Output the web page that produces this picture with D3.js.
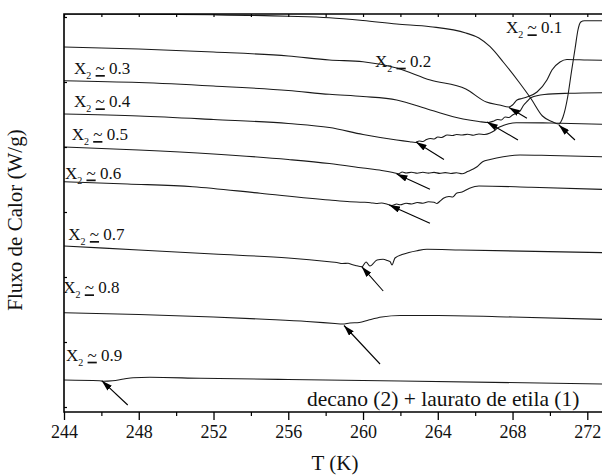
<!DOCTYPE html>
<html><head><meta charset="utf-8">
<script src="https://cdn.jsdelivr.net/npm/d3@7"></script>
<style>
body{margin:0;background:#fff}
text{font-family:"Liberation Serif","Times New Roman",serif;fill:#111;white-space:pre}
</style>
</head><body>
<svg id="chart" width="602" height="475"></svg>
<script>
// ---------- data ----------
const xTicks = [244, 248, 252, 256, 260, 264, 268, 272];
const xMinorTicks = [246, 250, 254, 258, 262, 266, 270];
const yMinorTicks = [5, 70, 135, 200, 265, 330, 395];
const compositions = ["0.1", "0.2", "0.3", "0.4", "0.5", "0.6", "0.7", "0.8", "0.9"];

// heat flow (arbitrary, offset units) vs T (K)
const curve01 = [[244,398],[248,397.8],[252,397.2],[256,395.8],[258.2,394.3],[260,391.5],[261.8,388],[263.6,385.3],[265.5,379],[266.2,374],[266.8,365.3],[267.5,350],[268.3,331],[269.0,313],[269.6,296],[270.1,290.5],[270.45,288],[270.7,295],[270.95,315],[271.15,340],[271.35,364],[271.5,382],[271.65,390],[271.85,391.3],[273,391.2]];
const curve02 = [[244,365],[248,363],[252,360],[256,356],[258.2,352],[260,350.3],[261.8,344],[263.6,332],[265.5,323],[266.6,310],[267.3,307],[267.8,305],[268.0,307],[268.24,312],[268.5,313.5],[268.77,315],[269.31,320],[269.84,332],[270.11,342],[270.54,350],[270.91,352.5],[272,352],[273,351.7]];
const curve03 = [[244,331.3],[248,329.5],[252,326],[256,321.5],[258.2,317.7],[260,315.5],[261.8,312],[263.6,302],[265.35,293],[266.2,290.5],[266.7,289.5],[267.0,291],[267.2,292.5],[267.4,292],[267.6,295],[267.8,294.5],[268.0,297],[268.2,299],[268.4,301],[268.6,307],[268.8,311],[269.0,314.5],[269.7,317.5],[271,318.7],[273,319.3]];
const curve04 = [[244,298],[248,296],[252,292.5],[256,288.5],[258.2,284.5],[260,277.5],[261.8,272],[262.5,270.3],[262.8,269.5],[263.0,271],[263.2,270.5],[263.4,272.5],[263.6,273.5],[263.8,273],[264.0,275],[264.2,274.5],[264.5,277],[264.8,276.5],[265.0,277.5],[265.3,277],[265.6,277.8],[265.9,276.8],[266.2,278],[266.5,277.5],[266.8,279],[267.0,281],[267.2,284],[267.5,286.5],[267.8,288.3],[268.2,289.3],[270,289],[273,287.7]];
const curve05 = [[244,265],[248,262],[252,258],[256,252.5],[258.2,248.5],[260,244],[261,241.5],[261.6,239.5],[261.9,238.3],[262.1,240],[262.3,239],[262.6,239.8],[262.9,238.8],[263.2,239.7],[263.5,238.9],[263.8,239.6],[264.1,238.6],[264.4,239.4],[264.7,238.5],[265.0,239.2],[265.3,238.2],[265.6,240.5],[265.9,243],[266.1,245.3],[266.4,250.3],[266.8,252.5],[267.5,255.3],[268.4,257],[270,256.5],[273,255.2]];
const curve06 = [[244,230.3],[247.4,228],[250.9,225.3],[254.5,218.7],[258.2,212],[259.3,210.3],[260.0,209.8],[260.4,209.3],[260.7,208.5],[261.0,209],[261.3,207.7],[261.55,206.5],[261.8,208],[262.0,207.2],[262.3,208.8],[262.6,208],[262.9,209.5],[263.2,208.8],[263.5,210.3],[263.8,209.8],[263.95,208.5],[264.1,210.5],[264.3,213.7],[264.6,215.5],[264.8,215],[265.0,218.7],[265.3,220],[265.7,223.7],[266.2,226],[269,224.7],[273,222.5]];
const curve07 = [[244,166],[248,162],[252,158],[256,154],[258.2,150.3],[258.6,149.5],[258.9,148.5],[259.2,148.8],[259.4,147.5],[259.6,146.5],[259.95,145.3],[260.16,150],[260.37,146],[260.75,152],[261.07,152.7],[261.3,151.5],[261.45,150.3],[261.55,147],[261.71,154],[262.14,157.7],[262.89,161.3],[263.42,162.7],[265.19,162],[273,159.3]];
const curve08 = [[244,99.3],[248,97.5],[252,95],[255,92.5],[257,90.5],[258.5,88.5],[258.9,88],[259.3,89],[259.8,89.5],[260.3,92],[261,95],[262,96.5],[264,96.5],[268,95],[273,92.5]];
const curve09 = [[244,32],[245.9,31.3],[246.1,30.8],[246.6,31.3],[247.2,33],[247.7,34.3],[248.6,34.7],[251.3,33.7],[256,32.5],[262,31],[273,28]];
const curves = [curve01, curve02, curve03, curve04, curve05, curve06, curve07, curve08, curve09];

// arrows marking onset points: [tipT, tipQ, tailT, tailQ]
const arrows = [
  [270.48,287,271.34,272],
  [267.81,304.5,268.77,293.7],
  [266.63,290,268.29,272],
  [262.83,270,264.33,252.5],
  [261.80,238,263.58,222.7],
  [261.40,207,263.58,188.7],
  [259.93,145.3,261.08,121],
  [258.98,86.5,260.91,48],
  [246.02,31.3,247.41,7]
];
// label anchors (T, Q) for each composition
const labelAnchors = [[267.65,378.7],[260.64,345.3],[244.54,338],[244.54,304.7],[244.41,272],[244.05,233.5],[244.23,172],[243.96,118.7],[244.11,51.3]];
const systemLabel = "decano (2) + laurato de etila (1)";
const xTitle = "T (K)";
const yTitle = "Fluxo de Calor (W/g)";

// ---------- drawing ----------
const W = 602, H = 475;
const svg = d3.select("#chart");
const x = d3.scaleLinear().domain([244, 272]).range([64, 587.3]);
const y = d3.scaleLinear().domain([0, 398]).range([412, 14]);
const pLeft = x(244), pTop = y(398), pBottom = y(0);

const defs = svg.append("defs");
defs.append("clipPath").attr("id","plot")
  .append("rect").attr("x", pLeft).attr("y", pTop).attr("width", W-pLeft).attr("height", pBottom-pTop);
const m = defs.append("marker").attr("id","ah")
  .attr("viewBox","0 0 10 6").attr("refX",10).attr("refY",3)
  .attr("markerWidth",11).attr("markerHeight",6.5).attr("markerUnits","userSpaceOnUse")
  .attr("orient","auto");
m.append("path").attr("d","M0,0L10,3L0,6Z").attr("fill","#000");

const line = d3.line().x(d => x(d[0])).y(d => y(d[1])).curve(d3.curveMonotoneX);
const g = svg.append("g").attr("clip-path","url(#plot)");
g.selectAll("path.c").data(curves).join("path").attr("class","c")
  .attr("d", line).attr("fill","none").attr("stroke","#1a1a1a").attr("stroke-width",1.1);

// arrows
svg.selectAll("line.arr").data(arrows).join("line").attr("class","arr")
  .attr("x1", d => x(d[2])).attr("y1", d => y(d[3]))
  .attr("x2", d => x(d[0])).attr("y2", d => y(d[1]))
  .attr("stroke","#000").attr("stroke-width",1.1).attr("marker-end","url(#ah)");

// axes
const ax = svg.append("g").attr("transform",`translate(0,${pBottom})`)
  .call(d3.axisBottom(x).tickValues(xTicks).tickSize(8).tickPadding(5).tickFormat(d3.format("d")));
ax.select(".domain").remove();
ax.selectAll("line").attr("stroke","#000").attr("stroke-width",1.3);
ax.selectAll("text").attr("font-size",18).attr("font-family","Liberation Serif").attr("fill","#111");
const axm = svg.append("g").attr("transform",`translate(0,${pBottom})`)
  .call(d3.axisBottom(x).tickValues(xMinorTicks).tickSize(4).tickFormat(""));
axm.select(".domain").remove();
axm.selectAll("line").attr("stroke","#000").attr("stroke-width",1.2);

const at = svg.append("g").attr("transform",`translate(0,${pTop})`)
  .call(d3.axisTop(x).tickValues(xTicks.concat(xMinorTicks)).tickSize(-3).tickFormat(""));
at.select(".domain").remove();
at.selectAll("line").attr("stroke","#000").attr("stroke-width",1.2);

const al = svg.append("g").attr("transform",`translate(${pLeft},0)`)
  .call(d3.axisLeft(y).tickValues(yMinorTicks).tickSize(-3).tickFormat(""));
al.select(".domain").remove();
al.selectAll("line").attr("stroke","#000").attr("stroke-width",1.2);

// frame
svg.append("path").attr("d",`M${W},${pTop}H${pLeft}V${pBottom}H${W}`)
  .attr("fill","none").attr("stroke","#000").attr("stroke-width",1.6);

// composition labels
labelAnchors.forEach((a, i) => {
  const t = svg.append("text").attr("x", x(a[0])).attr("y", y(a[1])).attr("font-size",17);
  t.append("tspan").text("X");
  t.append("tspan").attr("font-size",10).attr("dy",5).text("2");
  t.append("tspan").attr("dy",-5).text(" ");
  t.append("tspan").style("text-decoration","underline").text("~");
  t.append("tspan").text(" " + compositions[i]);
});

svg.append("text").attr("x", 307).attr("y", 406).attr("font-size",21.5).text(systemLabel);
svg.append("text").attr("x", (pLeft + W)/2 + 2).attr("y", 470).attr("text-anchor","middle").attr("font-size",21).text(xTitle);
svg.append("text").attr("transform",`translate(22,${(pTop+pBottom)/2 + 7}) rotate(-90)`)
  .attr("text-anchor","middle").attr("font-size",21).text(yTitle);
</script>
</body></html>
